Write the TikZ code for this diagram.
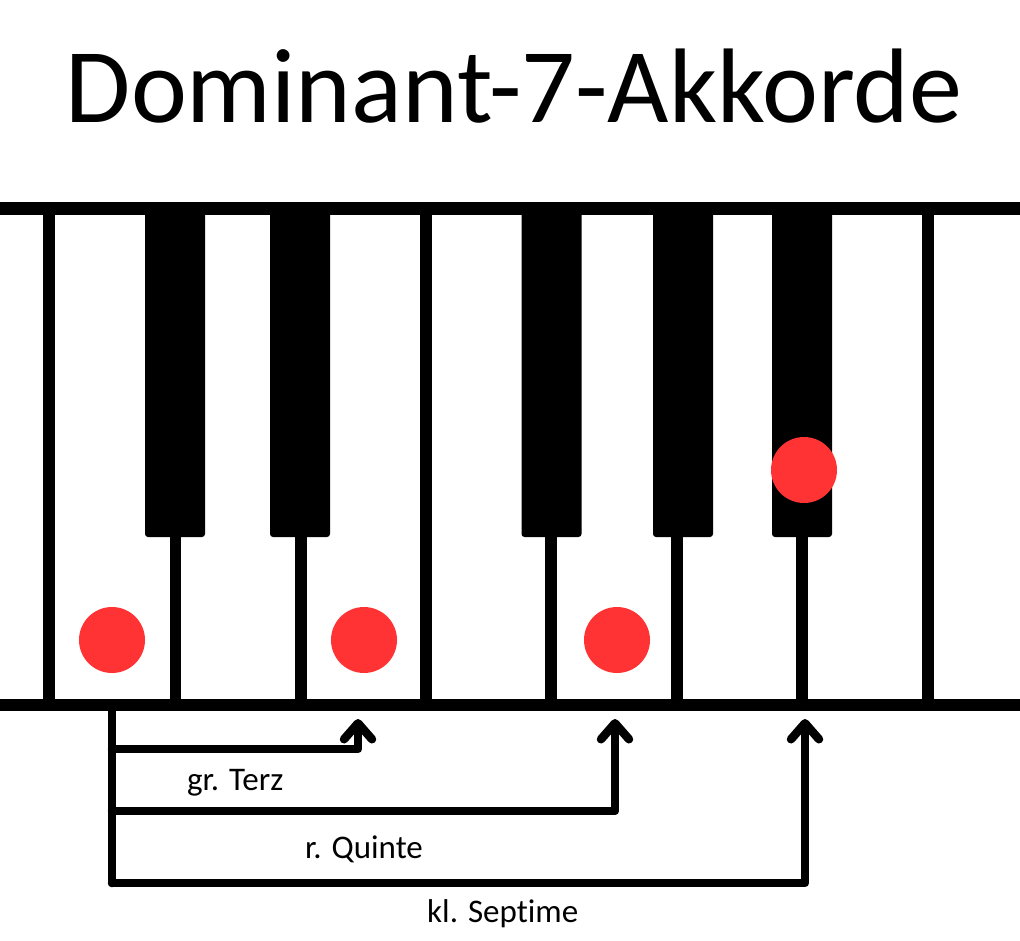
\documentclass[tikz,border=0pt]{standalone}
\usepackage{fontspec}
\setmainfont[Ligatures={NoCommon,NoRare}]{Carlito}
\usetikzlibrary{arrows.meta}
\definecolor{dotred}{RGB}{255,51,51}
\begin{document}
\begin{tikzpicture}[x=1pt,y=-1pt,
  sep/.style={line width=11.5pt},
  blackkey/.style={fill=black, rounded corners=3pt},
  bar/.style={fill=black},
  dot/.style={circle, fill=dotred, minimum size=66pt, inner sep=0pt},
  stem/.style={line width=8.5pt, line cap=round, line join=round},
  interval/.style={stem, -{Straight Barb[round,length=16pt,width=28pt]}},
  lbl/.style={font=\fontsize{33}{36}\selectfont, anchor=base west, inner sep=0pt},
]
\fill[white] (0,0) rectangle (1020,940);
\useasboundingbox (0,0) rectangle (1020,940);
\node[font=\fontsize{106}{110}\selectfont, anchor=base, inner sep=0pt] (title) at (514,122) {Dominant-7-Akkorde};
% white key separators
\foreach \x in {49,426,928} \draw[sep] (\x,208) -- (\x,705);
\foreach \x in {175.5,301,551,677,802} \draw[sep] (\x,530) -- (\x,705);
% black keys
\foreach \x in {175,300,551.5,683,802} \fill[blackkey] (\x-30,208) rectangle (\x+30,537);
% bars
\fill[bar] (0,202) rectangle (1020,215);
\fill[bar] (0,699) rectangle (1020,711);
% chord notes
\node[dot] (c) at (112,640) {};
\node[dot] (e) at (364,640) {};
\node[dot] (g) at (617,640) {};
\node[dot] (b) at (804,470) {};
% interval connectors
\coordinate (root) at (112,706);
\coordinate (t0) at (112,749);
\coordinate (t1) at (358,749);
\coordinate (t2) at (358,719);
\coordinate (q0) at (112,811);
\coordinate (q1) at (615,811);
\coordinate (q2) at (615,719);
\coordinate (s0) at (112,883);
\coordinate (s1) at (805,883);
\coordinate (s2) at (805,719);
\draw[stem] (root) -- (s0);
\draw[interval] (t0) -- (t1) -- (t2);
\draw[interval] (q0) -- (q1) -- (q2);
\draw[interval] (s0) -- (s1) -- (s2);
% labels
\node[lbl] (terz) at (187,790) {gr. Terz};
\node[lbl] (quinte) at (305,858) {r. Quinte};
\node[lbl] (septime) at (427,922) {kl. Septime};
\end{tikzpicture}
\end{document}
